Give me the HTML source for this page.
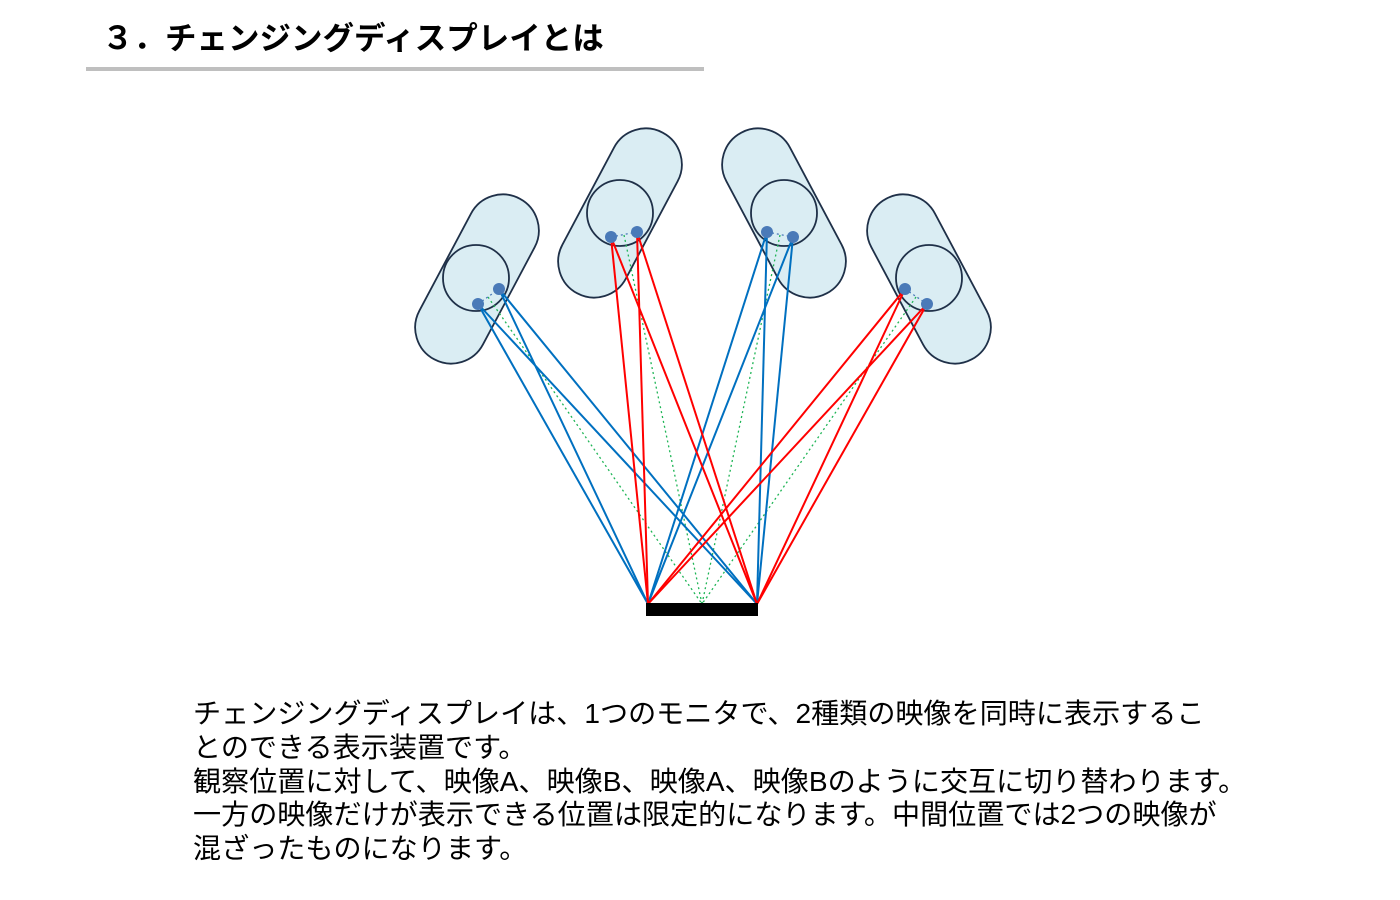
<!DOCTYPE html>
<html><head><meta charset="utf-8"><style>
body{margin:0;width:1400px;height:900px;background:#fff;overflow:hidden;position:relative;font-family:"Liberation Sans","Noto Sans CJK JP",sans-serif;}
.title{position:absolute;left:102px;top:18px;font-size:31.5px;font-weight:bold;line-height:40px;white-space:nowrap;color:#000;}
.bar{position:absolute;left:86px;top:67px;width:618px;height:4px;background:#bfbfbf;}
.txt{position:absolute;left:193px;top:697px;font-size:28.1px;line-height:33.8px;white-space:nowrap;color:#000;}
</style></head><body>
<div class="title">３．チェンジングディスプレイとは</div>
<div class="bar"></div>
<svg width="1400" height="900" style="position:absolute;left:0;top:0">
<g fill="#daedf3" stroke="#1f3048" stroke-width="1.8">
<rect x="441" y="224" width="72" height="182" rx="36" transform="rotate(28 477 279) translate(0 -36)"/>
<rect x="584" y="158" width="72" height="182" rx="36" transform="rotate(28 620 213) translate(0 -36)"/>
<rect x="748" y="158" width="72" height="182" rx="36" transform="rotate(-28 784 213) translate(0 -36)"/>
<rect x="893" y="224" width="72" height="182" rx="36" transform="rotate(-28 929 279) translate(0 -36)"/>
<circle cx="476" cy="278" r="33" fill="none"/>
<circle cx="620" cy="213" r="33" fill="none"/>
<circle cx="784" cy="213" r="33" fill="none"/>
<circle cx="929" cy="278" r="33" fill="none"/>
</g>
<g stroke="#1fb556" stroke-width="1.3" stroke-dasharray="2 3" fill="none">
<line x1="488" y1="297" x2="702" y2="604"/>
<line x1="624" y1="235" x2="702" y2="604"/>
<line x1="780" y1="235" x2="702" y2="604"/>
<line x1="916" y1="297" x2="702" y2="604"/>
<line x1="478" y1="304" x2="499" y2="289" stroke="#4a7ab8"/>
<line x1="611" y1="237" x2="637" y2="232" stroke="#4a7ab8"/>
<line x1="767" y1="232" x2="793" y2="237" stroke="#4a7ab8"/>
<line x1="905" y1="289" x2="927" y2="304" stroke="#4a7ab8"/>
</g>
<g stroke="#0070c0" stroke-width="2" fill="none">
<line x1="478" y1="304" x2="648" y2="604"/><line x1="478" y1="304" x2="757" y2="604"/>
<line x1="499" y1="289" x2="648" y2="604"/><line x1="499" y1="289" x2="757" y2="604"/>
<line x1="767" y1="232" x2="648" y2="604"/><line x1="767" y1="232" x2="757" y2="604"/>
<line x1="793" y1="237" x2="648" y2="604"/><line x1="793" y1="237" x2="757" y2="604"/>
</g>
<g stroke="#ff0000" stroke-width="2" fill="none">
<line x1="611" y1="237" x2="648" y2="604"/><line x1="611" y1="237" x2="757" y2="604"/>
<line x1="637" y1="232" x2="648" y2="604"/><line x1="637" y1="232" x2="757" y2="604"/>
<line x1="905" y1="289" x2="648" y2="604"/><line x1="905" y1="289" x2="757" y2="604"/>
<line x1="927" y1="304" x2="648" y2="604"/><line x1="927" y1="304" x2="757" y2="604"/>
</g>
<g fill="#4a7ab8">
<circle cx="478" cy="304" r="6"/><circle cx="499" cy="289" r="6"/>
<circle cx="611" cy="237" r="6"/><circle cx="637" cy="232" r="6"/>
<circle cx="767" cy="232" r="6"/><circle cx="793" cy="237" r="6"/>
<circle cx="905" cy="289" r="6"/><circle cx="927" cy="304" r="6"/>
</g>
<rect x="646" y="603" width="112" height="13" fill="#000"/>
</svg>
<div class="txt">チェンジングディスプレイは、1つのモニタで、2種類の映像を同時に表示するこ<br>とのできる表示装置です。<br>観察位置に対して、映像A、映像B、映像A、映像Bのように交互に切り替わります。<br>一方の映像だけが表示できる位置は限定的になります。中間位置では2つの映像が<br>混ざったものになります。</div>
</body></html>
